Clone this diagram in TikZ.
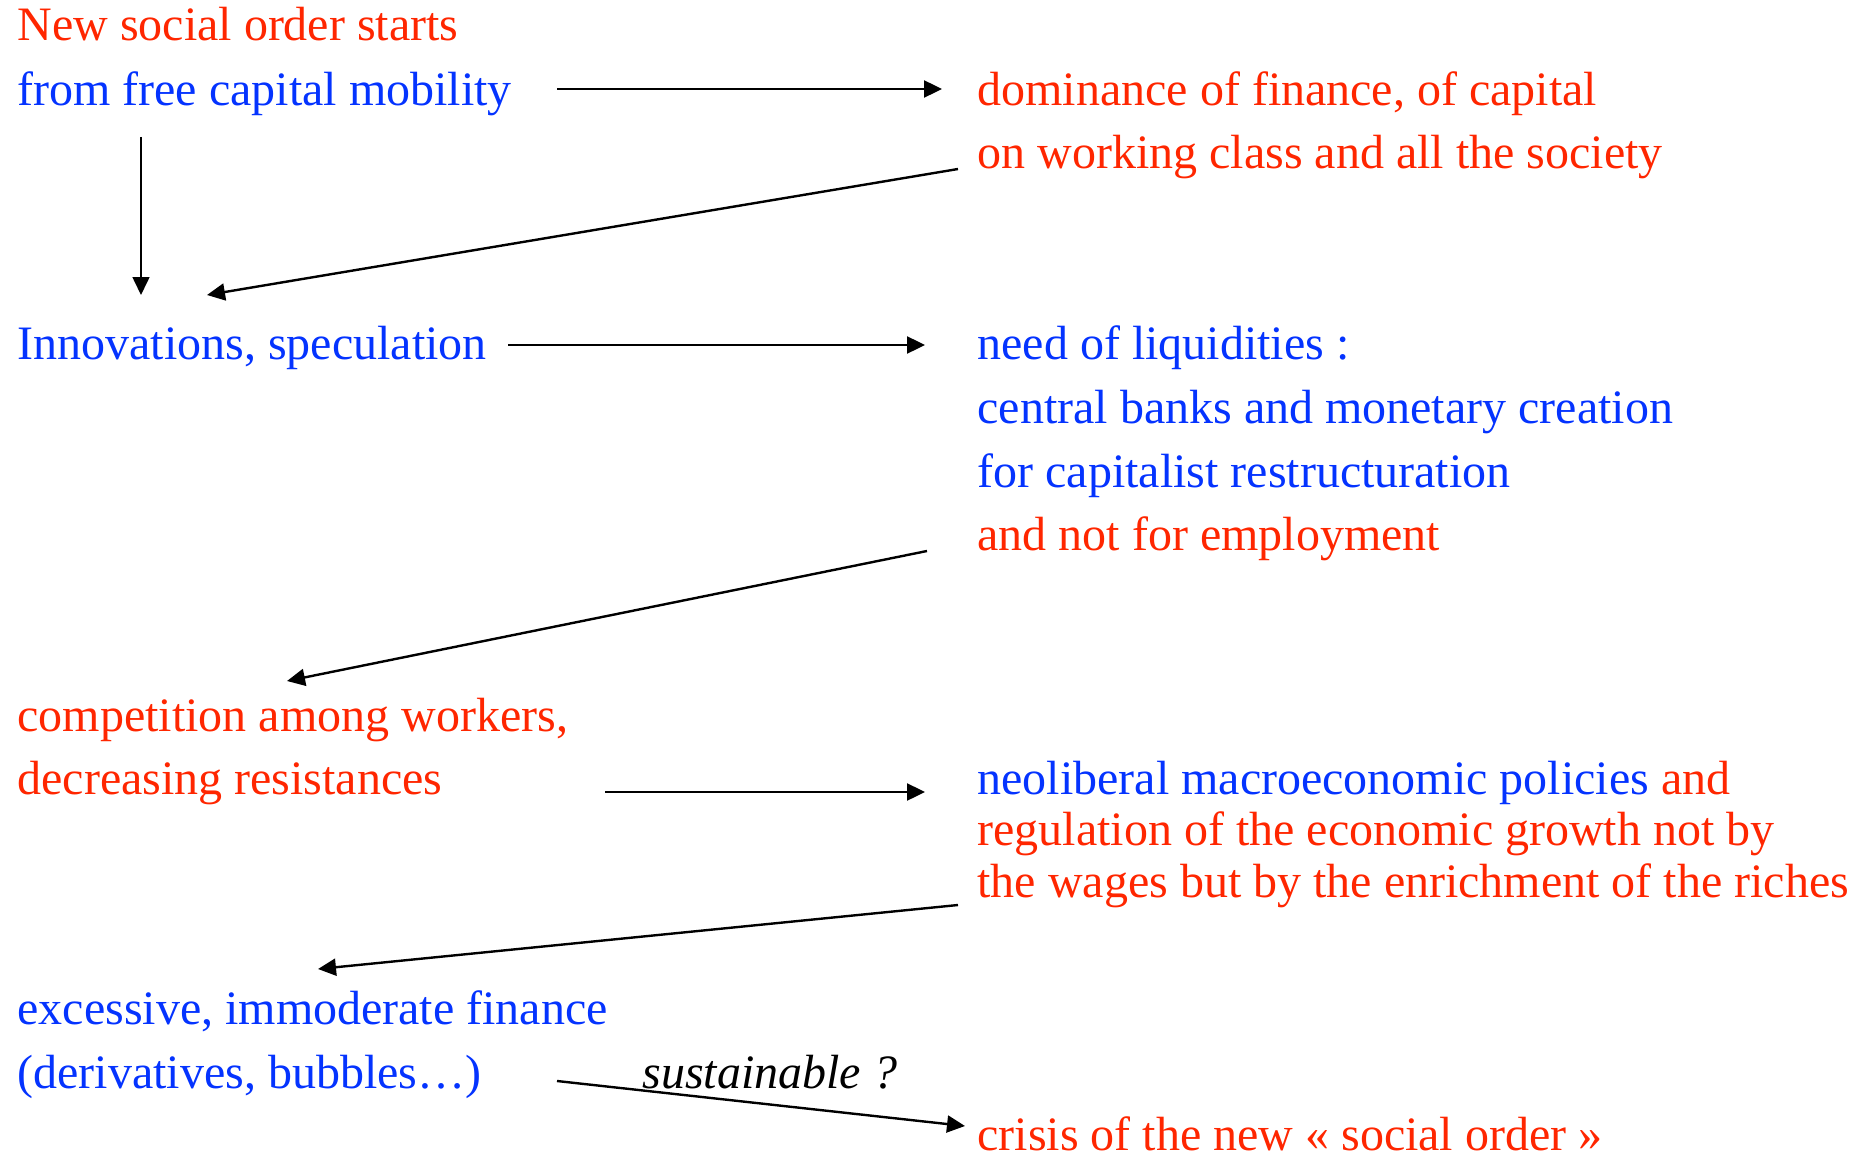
\documentclass[tikz,border=0pt]{standalone}
\usepackage{fontspec}
\setmainfont{Liberation Serif}
\usepackage{tikz}
\usetikzlibrary{calc,arrows.meta}
\definecolor{ordred}{RGB}{255,38,0}
\definecolor{ordblue}{RGB}{4,51,255}
\tikzset{
  txt/.style={anchor=base west,inner sep=0pt,font=\fontsize{24}{28}\selectfont},
  rtxt/.style={txt,text=ordred},
  btxt/.style={txt,text=ordblue},
  flow/.style={-{Triangle[length=9pt,width=8.5pt]},line width=1.2pt}
}
\begin{document}
\begin{tikzpicture}[x=0.5pt,y=-0.5pt]
\useasboundingbox (0,0) rectangle (1863,1156);

%left column
\node[rtxt] (start) at (17,41) {New social order starts};
\node[btxt] (mob) at (17,105) {from free capital mobility};
\node[btxt] (innov) at (17,359) {Innovations, speculation};
\node[rtxt] (comp) at (17,731) {competition among workers,};
\node[rtxt] (decr) at (17,794) {decreasing resistances};
\node[btxt] (exc) at (17,1024) {excessive, immoderate finance};
\node[btxt] (deriv) at (17,1088) {(derivatives, bubbles…)};

%right column
\node[rtxt] (dom) at (977,105) {dominance of finance, of capital};
\node[rtxt] (soc) at (977,169) {on working class and all the society};
\node[btxt] (liq) at (977,359) {need of liquidities :};
\node[btxt] (banks) at (977,423) {central banks and monetary creation};
\node[btxt] (restr) at (977,487) {for capitalist restructuration};
\node[rtxt] (empl) at (977,550) {and not for employment};
\node[btxt] (neo) at (977,794) {neoliberal macroeconomic policies \textcolor{ordred}{and}};
\node[rtxt] (regul) at (977,845) {regulation of the economic growth not by};
\node[rtxt] (wages) at (977,897) {the wages but by the enrichment of the riches};
\node[rtxt] (crisis) at (977,1150) {crisis of the new « social order »};

%question
\node[txt,font=\fontsize{24}{28}\selectfont\itshape] (sust) at (642,1088) {sustainable ?};

%arrows
\draw[flow] ($(mob.base west)+(540,-16)$) -- ($(dom.base west)+(-35,-16)$);
\draw[flow,line width=0.8pt] ($(mob.base west)+(124,32)$) -- ($(innov.base west)+(124,-64)$);
\draw[flow] ($(soc.base west)+(-19,0)$) -- ($(innov.base west)+(190,-64)$);
\draw[flow] ($(innov.base west)+(491,-14)$) -- ($(liq.base west)+(-52,-14)$);
\draw[flow] ($(empl.base west)+(-50,1)$) -- ($(comp.base west)+(270,-50)$);
\draw[flow] ($(decr.base west)+(588,-2)$) -- ($(neo.base west)+(-52,-2)$);
\draw[flow] ($(wages.base west)+(-19,8)$) -- ($(exc.base west)+(301,-55)$);
\draw[flow] ($(deriv.base west)+(540,-7)$) -- ($(crisis.base west)+(-12,-24)$);
\end{tikzpicture}
\end{document}
